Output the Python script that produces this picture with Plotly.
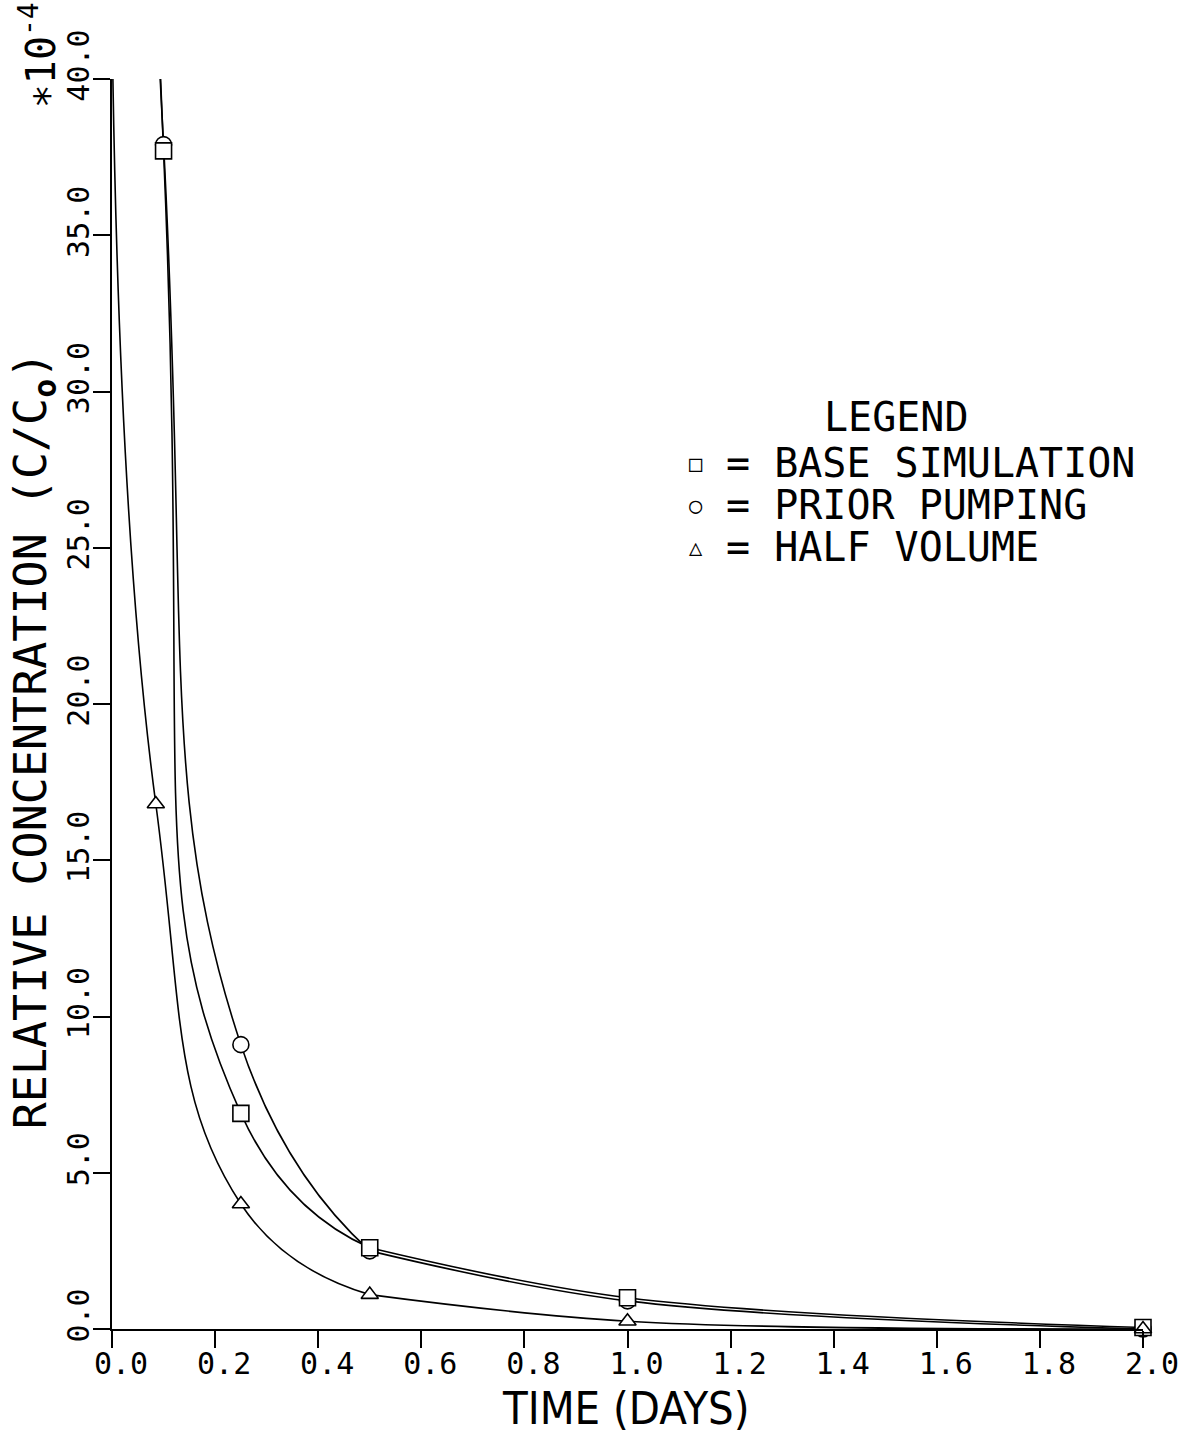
import plotly.graph_objects as go

# Sampling times (days) and relative concentration C/Co (units of 1e-4)
time_days = [0.10, 0.25, 0.50, 1.00, 2.00]
base_simulation = [37.7, 6.9, 2.6, 1.0, 0.05]
prior_pumping = [37.9, 9.1, 2.5, 0.9, 0.0]

half_volume_days = [0.085, 0.25, 0.50, 1.00, 2.00]
half_volume = [16.8, 4.0, 1.1, 0.25, 0.0]

# Concentrations at the start of each run (t = 0), above the plotted range
start_day = 0.0
base_start = 400.0
prior_start = 120.0
half_start = 42.0

x_tick_values = [0.0, 0.2, 0.4, 0.6, 0.8, 1.0, 1.2, 1.4, 1.6, 1.8, 2.0]
x_tick_labels = ["0.0", "0.2", "0.4", "0.6", "0.8", "1.0", "1.2", "1.4", "1.6", "1.8", "2.0"]
y_tick_values = [0, 5, 10, 15, 20, 25, 30, 35, 40]
y_tick_labels = ["0.0", "5.0", "10.0", "15.0", "20.0", "25.0", "30.0", "35.0", "40.0"]

series_names = ["BASE SIMULATION", "PRIOR PUMPING", "HALF VOLUME"]
series_symbols = ["square", "circle", "triangle-up"]
legend_glyphs = ["\u25a1", "\u25cb", "\u25b3"]

W, H = 1191, 1438
L, R, T, B = 112, 44, 79, 109
MONO = "DejaVu Sans Mono"
CONDENSED = "DejaVu Sans Condensed, DejaVu Sans Mono"
INK = "black"


def paper(px, py):
    """Convert page pixel position to paper coordinates."""
    return (px - L) / (W - L - R), (H - B - py) / (H - T - B)


fig = go.Figure()

series = [
    (time_days, base_simulation, base_start),
    (time_days, prior_pumping, prior_start),
    (half_volume_days, half_volume, half_start),
]

# Each curve is drawn in two pieces joined at the 0.5-day sample:
# a steep early decline and a gentle late tail.
for xs, ys, y0 in series:
    fig.add_trace(go.Scatter(
        x=[start_day] + xs[:3], y=[y0] + ys[:3], mode="lines",
        line=dict(color=INK, width=1.6, shape="spline", smoothing=1.3),
        hoverinfo="skip", showlegend=False,
    ))
    fig.add_trace(go.Scatter(
        x=xs[2:], y=ys[2:], mode="lines",
        line=dict(color=INK, width=1.6, shape="spline", smoothing=1.0),
        hoverinfo="skip", showlegend=False,
    ))

marker_sizes = [16, 16, 15]
# prior pumping first so the base-simulation squares sit on top
for idx in [1, 0, 2]:
    xs, ys, _ = series[idx]
    fig.add_trace(go.Scatter(
        x=xs, y=ys, mode="markers", name=series_names[idx],
        marker=dict(symbol=series_symbols[idx], size=marker_sizes[idx],
                    color="white", line=dict(color=INK, width=1.6)),
        cliponaxis=False, showlegend=False,
    ))

annotations = []

# axis titles and scale factor
ax, ay = paper(33, 740)
annotations.append(dict(
    x=ax, y=ay, xref="paper", yref="paper", showarrow=False, textangle=-90,
    xanchor="center", yanchor="middle",
    text="RELATIVE CONCENTRATION (C/C<sub><b>o</b></sub>)",
    font=dict(family=MONO, size=45, color=INK),
))
ax, ay = paper(628, 1408)
annotations.append(dict(
    x=ax, y=ay, xref="paper", yref="paper", showarrow=False,
    xanchor="center", yanchor="middle", text="TIME (DAYS)",
    font=dict(family=CONDENSED, size=45, color=INK),
))
ax, ay = paper(38, 55)
annotations.append(dict(
    x=ax, y=ay, xref="paper", yref="paper", showarrow=False, textangle=-90,
    xanchor="center", yanchor="middle", text="\u221710<sup>-4</sup>",
    font=dict(family=MONO, size=40, color=INK),
))

# legend block
ax, ay = paper(900, 417)
annotations.append(dict(
    x=ax, y=ay, xref="paper", yref="paper", showarrow=False,
    xanchor="center", yanchor="middle", text="LEGEND",
    font=dict(family=MONO, size=40, color=INK),
))
row_y = [463, 505, 547]
for glyph, name, py in zip(legend_glyphs, series_names, row_y):
    gx, gy = paper(698, py)
    annotations.append(dict(
        x=gx, y=gy, xref="paper", yref="paper", showarrow=False,
        xanchor="center", yanchor="middle", text=glyph,
        font=dict(family=MONO, size=22, color=INK),
    ))
    tx, ty = paper(726, py)
    annotations.append(dict(
        x=tx, y=ty, xref="paper", yref="paper", showarrow=False,
        xanchor="left", yanchor="middle", text="= " + name,
        font=dict(family=MONO, size=40, color=INK),
    ))

axis_common = dict(
    showline=True, linecolor=INK, linewidth=2,
    ticks="outside", ticklen=17, tickwidth=1.6, tickcolor=INK,
    showgrid=False, zeroline=False, mirror=False,
    tickfont=dict(family=MONO, size=30, color=INK),
)

fig.update_layout(
    width=W, height=H,
    margin=dict(l=L, r=R, t=T, b=B),
    paper_bgcolor="white", plot_bgcolor="white",
    showlegend=False,
    xaxis=dict(range=[0, 2.0], tickvals=x_tick_values, ticktext=x_tick_labels,
               ticklabelshift=9, ticklabelstandoff=-10, **axis_common),
    yaxis=dict(range=[0, 40], tickvals=y_tick_values, ticktext=y_tick_labels,
               tickangle=-90, ticklabelshift=-9, ticklabelstandoff=-8,
               **axis_common),
    annotations=annotations,
)

fig.write_html("out.html")
